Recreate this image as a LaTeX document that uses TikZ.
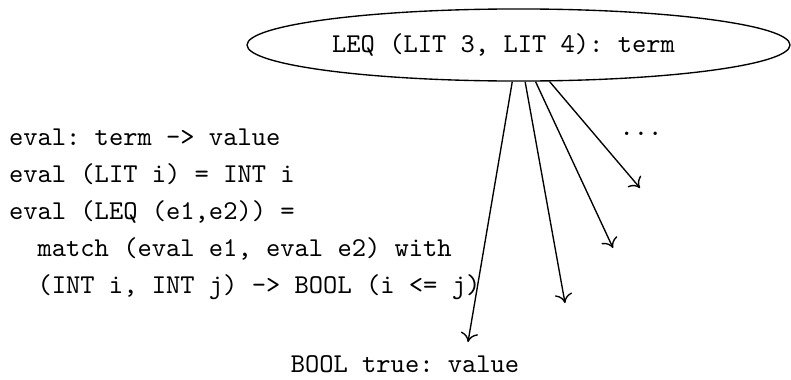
\documentclass[tikz,border=0pt]{standalone}
\usetikzlibrary{positioning}
\usetikzlibrary{shapes.geometric}
\usetikzlibrary{arrows.meta}
\tikzset {
  % the term that gets evaluated
  term/.style = {
    draw = black,
    ellipse,
    line width = 0.5pt,
    font = \ttfamily\frenchspacing,
    minimum width = 199.6pt,
    minimum height = 26.5pt,
    inner sep = 0
  },
  % definition of eval
  code/.style = {
    font = {\ttfamily\frenchspacing\linespread{1.133}\selectfont},
    align = left,
    inner sep = 0
  },
  % resulting value
  result/.style = {
    font = \ttfamily\frenchspacing,
    inner sep = 0
  },
  eval arrow/.style = {
    draw = black,
    line width = 0.5pt,
    -{To[length=3.4pt, width=6.4pt]}
  }
}

\begin{document}
\begin{tikzpicture}[x=0.3676pt, y=-0.3676pt]
  \useasboundingbox (0,0) rectangle (791,379);

  \node[term] (leq) at (518.5,45) {LEQ (LIT 3, LIT 4): term\hspace*{11pt}};
  \node[code, anchor=north west] (eval) at (8.5,128.4) {%
    eval: term -> value\\
    eval (LIT i) = INT i\\
    eval (LEQ (e1,e2)) =\\
    ~~match (eval e1, eval e2) with\\
    ~~(INT i, INT j) -> BOOL (i <= j)};
  \node[result, anchor=base] (bool) at (405,372) {BOOL true: value};
  \node[result, anchor=base] (dots) at (641,135) {...};

  \coordinate (v1) at (468,342);
  \coordinate (v2) at (565,303);
  \coordinate (v3) at (613,248);
  \coordinate (v4) at (640,188);

  \draw[eval arrow] (leq) -- (v1);
  \draw[eval arrow] (leq) -- (v2);
  \draw[eval arrow] (leq) -- (v3);
  \draw[eval arrow] (leq) -- (v4);
\end{tikzpicture}
\end{document}
